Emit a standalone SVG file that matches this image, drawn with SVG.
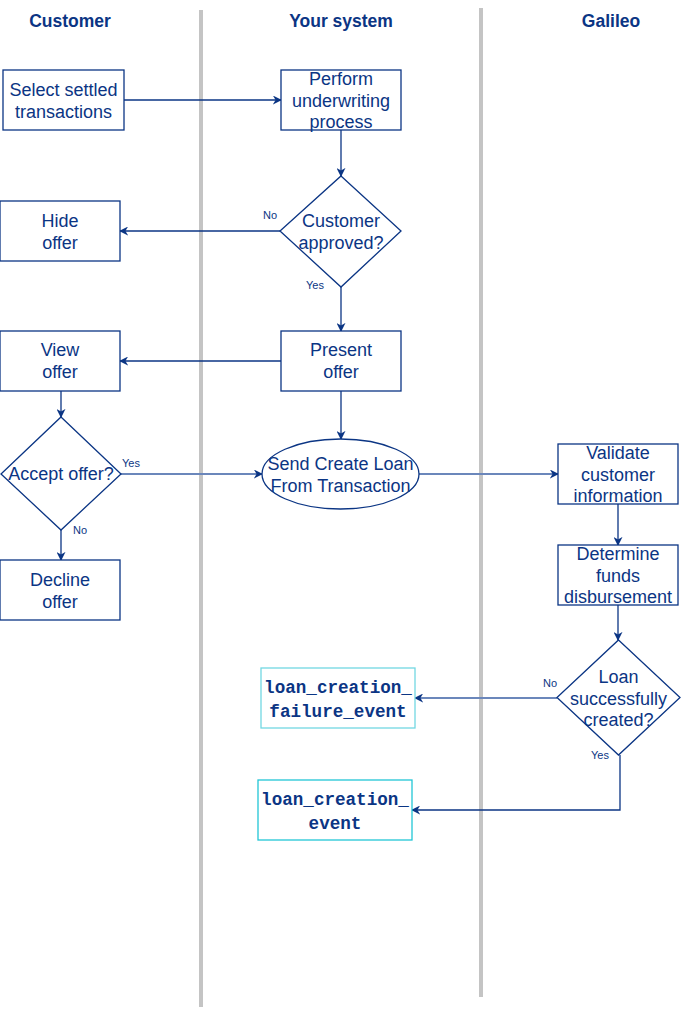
<svg xmlns="http://www.w3.org/2000/svg" width="681" height="1011" viewBox="0 0 681 1011">
<style>
.lane{stroke:#c4c4c4;stroke-width:4;fill:none}
.hdr{font-family:"Liberation Sans",Arial,sans-serif;font-size:17.5px;font-weight:bold;fill:#0b3584;text-anchor:middle}
.box{fill:#fff;stroke:#0b3584;stroke-width:1.3}
.ev{fill:#fff;stroke-width:1.3}
.t{font-family:"Liberation Sans",Arial,sans-serif;font-size:18px;fill:#0b3584;text-anchor:middle}
.m{font-family:"Liberation Mono","Courier New",monospace;font-size:17.6px;font-weight:bold;fill:#0b3584;text-anchor:middle}
.lbl{font-family:"Liberation Sans",Arial,sans-serif;font-size:11px;fill:#0b3584;text-anchor:middle}
.c{fill:none;stroke:#0b3584;stroke-width:1.3;marker-end:url(#arr)}
.cl{fill:none;stroke:#6b87bb;stroke-width:2;marker-end:url(#arr)}
</style>
<defs>
<marker id="arr" viewBox="0 0 10 10" refX="9" refY="5" markerWidth="9" markerHeight="9" markerUnits="userSpaceOnUse" orient="auto">
<path d="M0,0 L10,5 L0,10 L3,5 z" fill="#0b3584"/>
</marker>
</defs>
<rect width="681" height="1011" fill="#fff"/>
<g id="lanes">
<line class="lane" x1="201" y1="10" x2="201" y2="1007"/>
<line class="lane" x1="481" y1="8" x2="481" y2="997"/>
<text class="hdr" x="70" y="27">Customer</text>
<text class="hdr" x="341" y="27">Your system</text>
<text class="hdr" x="611" y="27">Galileo</text>
</g>
<g id="connectors">
<path class="c" d="M124,100 L281,100"/>
<path class="c" d="M341,130 L341,176"/>
<path class="c" d="M280,231 L120,231"/>
<path class="c" d="M341,287 L341,331"/>
<path class="c" d="M281,361 L120,361"/>
<path class="c" d="M61,391 L61,417"/>
<path class="c" d="M341,391 L341,439"/>
<path class="cl" d="M121,474 L262,474"/>
<path class="c" d="M61,530 L61,560"/>
<path class="cl" d="M419,474 L558,474"/>
<path class="c" d="M618,504 L618,545"/>
<path class="c" d="M618,605 L618,640"/>
<path class="cl" d="M557,698 L415,698"/>
<path class="c" d="M620,755 L620,810 L412,810"/>
<text class="lbl" x="270" y="219">No</text>
<text class="lbl" x="315" y="289">Yes</text>
<text class="lbl" x="131" y="467">Yes</text>
<text class="lbl" x="80" y="534">No</text>
<text class="lbl" x="550" y="687">No</text>
<text class="lbl" x="600" y="759">Yes</text>
</g>
<g id="select">
<rect class="box" x="3" y="70" width="121" height="60"/>
<text class="t" x="63.5" y="95.5">Select settled</text>
<text class="t" x="63.5" y="117.5">transactions</text>
</g>
<g id="perform">
<rect class="box" x="281" y="70" width="120" height="60"/>
<text class="t" x="341" y="84.5">Perform</text>
<text class="t" x="341" y="106.5">underwriting</text>
<text class="t" x="341" y="127.5">process</text>
</g>
<g id="approved">
<polygon class="box" points="341,176 401,231 341,287 280,231"/>
<text class="t" x="341" y="226.5">Customer</text>
<text class="t" x="341" y="248.5">approved?</text>
</g>
<g id="hide">
<rect class="box" x="0" y="201" width="120" height="60"/>
<text class="t" x="60" y="226.5">Hide</text>
<text class="t" x="60" y="248.5">offer</text>
</g>
<g id="present">
<rect class="box" x="281" y="331" width="120" height="60"/>
<text class="t" x="341" y="355.5">Present</text>
<text class="t" x="341" y="377.5">offer</text>
</g>
<g id="view">
<rect class="box" x="0" y="331" width="120" height="60"/>
<text class="t" x="60" y="355.5">View</text>
<text class="t" x="60" y="377.5">offer</text>
</g>
<g id="accept">
<polygon class="box" points="61,417 121,474 61,530 1,474"/>
<text class="t" x="61" y="479.5">Accept offer?</text>
</g>
<g id="decline">
<rect class="box" x="0" y="560" width="120" height="60"/>
<text class="t" x="60" y="585.5">Decline</text>
<text class="t" x="60" y="607.5">offer</text>
</g>
<g id="send">
<ellipse class="box" cx="340.5" cy="474" rx="78.5" ry="35"/>
<text class="t" x="340.5" y="469.5">Send Create Loan</text>
<text class="t" x="340.5" y="491.5">From Transaction</text>
</g>
<g id="validate">
<rect class="box" x="558" y="444" width="120" height="60"/>
<text class="t" x="618" y="458.5">Validate</text>
<text class="t" x="618" y="480.5">customer</text>
<text class="t" x="618" y="501.5">information</text>
</g>
<g id="determine">
<rect class="box" x="558" y="545" width="120" height="60"/>
<text class="t" x="618" y="559.5">Determine</text>
<text class="t" x="618" y="581.5">funds</text>
<text class="t" x="618" y="602.5">disbursement</text>
</g>
<g id="loan">
<polygon class="box" points="618.5,640 680,697.5 618.5,755 557,697.5"/>
<text class="t" x="618.5" y="682.5">Loan</text>
<text class="t" x="618.5" y="704.5">successfully</text>
<text class="t" x="618.5" y="725.5">created?</text>
</g>
<g id="failure">
<rect class="ev" x="261" y="668" width="154" height="60" stroke="#72d8e2"/>
<text class="m" x="338" y="692.5">loan_creation_</text>
<text class="m" x="338" y="716.5">failure_event</text>
</g>
<g id="created">
<rect class="ev" x="258" y="780" width="154" height="60" stroke="#22c6d6"/>
<text class="m" x="335" y="804.5">loan_creation_</text>
<text class="m" x="335" y="828.5">event</text>
</g>
</svg>
